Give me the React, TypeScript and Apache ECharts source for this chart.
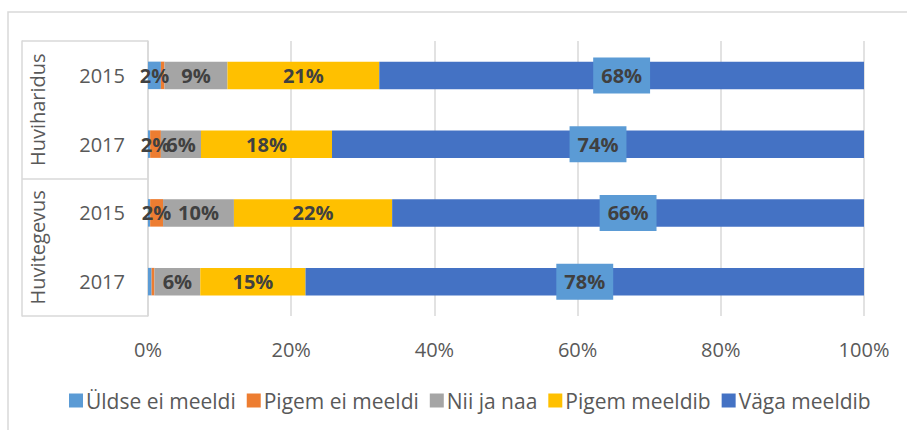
import React, { useEffect, useRef } from "react";
import * as echarts from "echarts";

const groups = ["Huviharidus", "Huvitegevus"];
const years = ["2015", "2017", "2015", "2017"];
const seriesNames = ["Üldse ei meeldi", "Pigem ei meeldi", "Nii ja naa", "Pigem meeldib", "Väga meeldib"];
const colors = ["#5B9BD5", "#ED7D31", "#A5A5A5", "#FFC000", "#4472C4"];
const uldseEiMeeldi = [1.8, 0.3, 0.3, 0.5];
const pigemEiMeeldi = [0.5, 1.5, 1.8, 0.4];
const niiJaNaa = [8.8, 5.6, 9.9, 6.4];
const pigemMeeldib = [21.2, 18.3, 22.1, 14.7];
const vagaMeeldib = [67.7, 74.3, 65.9, 78.0];
const xTicks = { min: 0, max: 100, step: 20 };

const seriesValues = [uldseEiMeeldi, pigemEiMeeldi, niiJaNaa, pigemMeeldib, vagaMeeldib];

export default function App() {
  const ref = useRef<HTMLDivElement>(null);
  useEffect(() => {
    if (!ref.current) return;
    const chart = echarts.init(ref.current, null, { renderer: "svg" });
    const font = "'Open Sans', sans-serif";
    const series = seriesNames.map((name, i) => {
      const isLast = i === seriesNames.length - 1;
      return {
        name,
        type: "bar",
        stack: "total",
        barWidth: "40%",
        yAxisIndex: 0,
        itemStyle: { color: colors[i] },
        label: {
          show: true,
          position: "inside",
          fontFamily: font,
          fontSize: 20,
          fontWeight: "bold",
          color: "#404040",
          formatter: (p: any) => (p.value >= 1 ? Math.round(p.value) + "%" : ""),
          ...(isLast
            ? { backgroundColor: "#5B9BD5", padding: [8, 8, 8, 8] }
            : {}),
        },
        data: seriesValues[i],
      };
    });
    chart.setOption({
      animation: false,
      textStyle: { fontFamily: font },
      grid: { left: 148, right: 43, top: 41, bottom: 114, containLabel: false },
      legend: {
        data: seriesNames,
        left: 64,
        top: 385,
        itemWidth: 14,
        itemHeight: 14,
        itemGap: 11,
        icon: "rect",
        textStyle: { fontFamily: font, fontSize: 21, color: "#595959", padding: [0, 0, 0, -2] },
      },
      xAxis: {
        type: "value",
        min: xTicks.min,
        max: xTicks.max,
        interval: xTicks.step,
        axisLine: { show: false },
        axisTick: { show: false },
        splitLine: { lineStyle: { color: "#D9D9D9", width: 1.5 } },
        axisLabel: {
          formatter: "{value}%",
          fontFamily: font,
          fontSize: 20,
          color: "#595959",
          margin: 23,
        },
      },
      yAxis: [
        {
          type: "category",
          data: years,
          inverse: true,
          axisLine: { show: true, lineStyle: { color: "#D9D9D9", width: 1.5 } },
          axisTick: { show: false },
          axisLabel: { interval: 0, fontFamily: font, fontSize: 20, color: "#595959", margin: 23 },
        },
        {
          type: "category",
          data: groups,
          inverse: true,
          position: "left",
          offset: 126,
          axisLine: { show: true, lineStyle: { color: "#D9D9D9", width: 1.5 } },
          axisTick: {
            show: true,
            interval: 0,
            inside: true,
            length: 126,
            lineStyle: { color: "#D9D9D9", width: 1.5 },
          },
          axisLabel: {
            interval: 0,
            inside: true,
            rotate: 90,
            margin: 5,
            fontFamily: font,
            fontSize: 20,
            color: "#595959",
          },
        },
      ],
      graphic: [
        {
          type: "rect",
          silent: true,
          z: -10,
          shape: { x: 8, y: 12, width: 1200, height: 1200 },
          style: { fill: "none", stroke: "#D9D9D9", lineWidth: 1.5 },
        },
      ],
      series,
    });
    return () => chart.dispose();
  }, []);
  return (
    <div
      ref={ref}
      style={{ position: "absolute", left: 0, top: 0, width: 907, height: 430, background: "#fff" }}
    />
  );
}
